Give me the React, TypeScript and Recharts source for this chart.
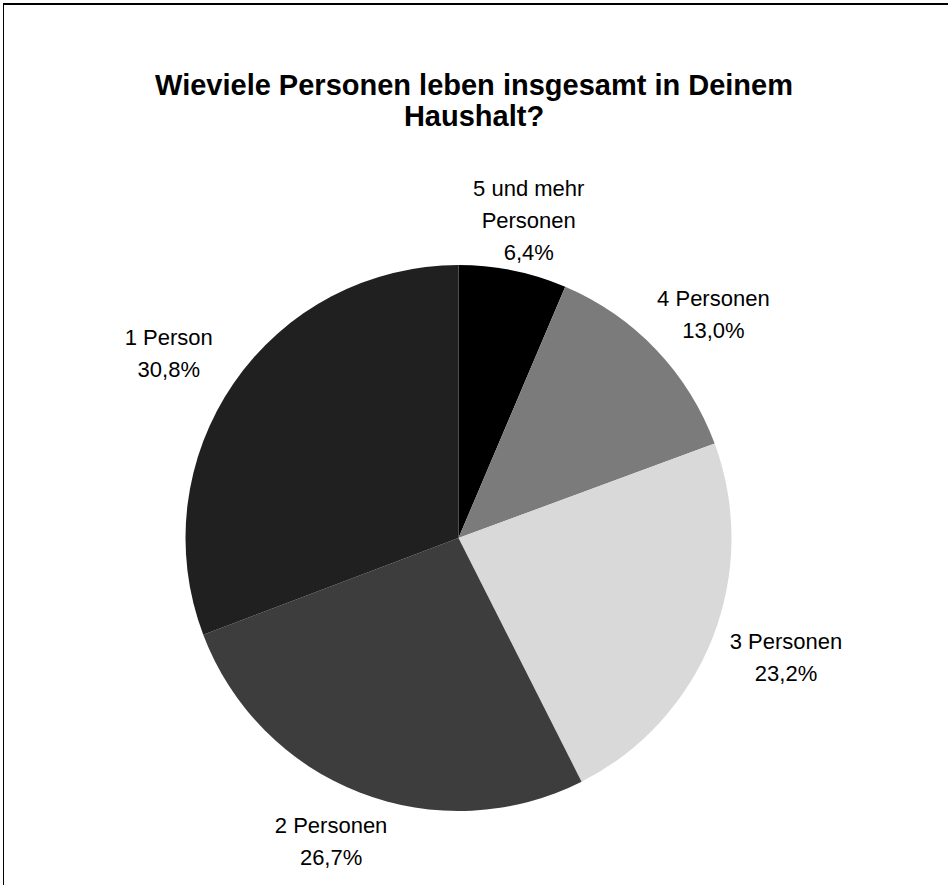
import { PieChart, Pie, Cell } from 'recharts';

const categories = ['5 und mehr\nPersonen', '4 Personen', '3 Personen', '2 Personen', '1 Person'];
const shares = [6.4, 13.0, 23.2, 26.7, 30.8];
const colors = ['#000000', '#7b7b7b', '#d9d9d9', '#3d3d3d', '#202020'];

const data = categories.map((name, i) => ({ name, value: shares[i] }));

const RAD = Math.PI / 180;

const renderLabel = (props: any) => {
  const { cx, cy, midAngle, outerRadius, index } = props;
  const x = cx + (outerRadius + 79) * Math.cos(-midAngle * RAD);
  const y = cy + (outerRadius + 52) * Math.sin(-midAngle * RAD);
  const lines = [...categories[index].split('\n'), shares[index].toFixed(1).replace('.', ',') + '%'];
  const lh = 32;
  const top = y - ((lines.length - 1) * lh) / 2;
  return (
    <text
      x={x}
      y={top}
      textAnchor="middle"
      dominantBaseline="central"
      fontFamily="'Liberation Sans', Arial, sans-serif"
      fontSize={22}
      fill="#000"
    >
      {lines.map((l, i) => (
        <tspan key={i} x={x} y={top + i * lh}>
          {l}
        </tspan>
      ))}
    </text>
  );
};

export default function App() {
  return (
    <div style={{ position: 'absolute', top: 0, left: 0, width: 948, height: 885, background: '#fff', overflow: 'hidden' }}>
      <div
        style={{
          position: 'absolute',
          top: 3,
          left: 3,
          width: 1000,
          height: 1000,
          borderTop: '2px solid #000',
          borderLeft: '1px solid #000',
        }}
      />
      <div
        style={{
          position: 'absolute',
          top: 70,
          left: 0,
          width: 948,
          textAlign: 'center',
          fontFamily: "'Liberation Sans', Arial, sans-serif",
          fontWeight: 'bold',
          fontSize: 29,
          lineHeight: '31px',
          color: '#000',
        }}
      >
        Wieviele Personen leben insgesamt in Deinem
        <br />
        Haushalt?
      </div>
      <PieChart width={948} height={885} style={{ position: 'absolute', top: 0, left: 0 }}>
        <Pie
          data={data}
          dataKey="value"
          nameKey="name"
          cx={453.5}
          cy={533}
          outerRadius={273}
          startAngle={90}
          endAngle={-270}
          stroke="none"
          label={renderLabel}
          labelLine={false}
          isAnimationActive={false}
        >
          {data.map((d, i) => (
            <Cell key={d.name} fill={colors[i]} />
          ))}
        </Pie>
      </PieChart>
    </div>
  );
}
